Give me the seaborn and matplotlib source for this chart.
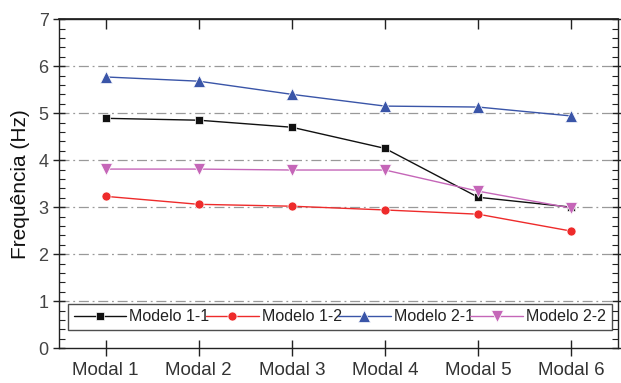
import matplotlib
matplotlib.use("Agg")
import matplotlib.pyplot as plt
from matplotlib.ticker import MultipleLocator
import seaborn as sns
import pandas as pd

categories = ["Modal 1", "Modal 2", "Modal 3", "Modal 4", "Modal 5", "Modal 6"]
modelo_1_1 = [4.89, 4.85, 4.70, 4.25, 3.21, 3.00]
modelo_1_2 = [3.23, 3.06, 3.02, 2.94, 2.85, 2.49]
modelo_2_1 = [5.77, 5.68, 5.40, 5.15, 5.13, 4.94]
modelo_2_2 = [3.81, 3.81, 3.79, 3.79, 3.34, 2.98]
series_names = ["Modelo 1-1", "Modelo 1-2", "Modelo 2-1", "Modelo 2-2"]

sns.set_theme(style="ticks")
plt.rcParams["font.family"] = ["Liberation Sans", "DejaVu Sans"]

rows = []
for name, vals in zip(series_names, [modelo_1_1, modelo_1_2, modelo_2_1, modelo_2_2]):
    for i, v in enumerate(vals):
        rows.append({"x": i, "Frequência": v, "Série": name})
df = pd.DataFrame(rows)

colors = {"Modelo 1-1": "#111111", "Modelo 1-2": "#ee2b2b",
          "Modelo 2-1": "#3a55a8", "Modelo 2-2": "#c566b8"}
markers = {"Modelo 1-1": "s", "Modelo 1-2": "o", "Modelo 2-1": "^", "Modelo 2-2": "v"}
msize = {"s": 6, "o": 6.5, "^": 8.5, "v": 8.5}

fig = plt.figure(figsize=(6.21, 3.83), dpi=100)
ax = fig.add_axes([0.095, 0.091, 0.900, 0.859])

sns.lineplot(data=df, x="x", y="Frequência", hue="Série", style="Série",
             palette=colors, markers=markers, dashes=False, markersize=6,
             markeredgewidth=0.5, linewidth=1.0, ax=ax, legend=True)

for ln in ax.lines:
    m = ln.get_marker()
    if m in msize:
        ln.set_markersize(msize[m])

ax.set_xlim(-0.5, 5.5)
ax.set_ylim(0, 7)
ax.set_xticks(range(len(categories)))
ax.set_xticklabels(categories)
ax.yaxis.set_major_locator(MultipleLocator(1))
ax.yaxis.set_minor_locator(MultipleLocator(0.2))
for y in range(1, 7):
    ax.axhline(y, color="#999999", lw=0.9, ls=(0, (8, 3, 1.5, 3)), zorder=0)

ax.tick_params(axis="y", which="major", direction="inout", length=9, width=1,
               left=True, right=True, labelsize=13, colors="#222222", labelcolor="#444444", pad=3)
ax.tick_params(axis="y", which="minor", direction="in", length=4, width=0.8,
               left=True, right=True, colors="#222222")
ax.tick_params(axis="x", which="major", direction="inout", length=12, width=1,
               top=False, bottom=True, labelsize=13.5, colors="#222222", labelcolor="#333333", pad=4)
ax.tick_params(axis="x", which="minor", bottom=False, top=False)

top = ax.secondary_xaxis("top")
top.set_xticks(range(len(categories)))
top.tick_params(axis="x", which="major", direction="in", length=7, width=1,
                labeltop=False, colors="#222222")
top.tick_params(axis="x", which="minor", top=False)
top.spines["top"].set_color("#222222")

for s in ax.spines.values():
    s.set_color("#222222")
    s.set_linewidth(1.0)

ax.set_xlabel("")
ax.set_ylabel("Frequência (Hz)", fontsize=15, color="#111111", labelpad=6)

leg = ax.legend(loc="lower left", bbox_to_anchor=(0.016, 0.055, 0.973, 0.08), mode="expand",
                ncol=4, frameon=True, fancybox=False, edgecolor="#222222", fontsize=11.5,
                handlelength=3.3, columnspacing=0.2, handletextpad=0.2, borderpad=0.35,
                borderaxespad=0)
leg.get_frame().set_linewidth(1.0)
for t in leg.get_texts():
    t.set_color("#222222")

fig.savefig("out.png", dpi=100)
